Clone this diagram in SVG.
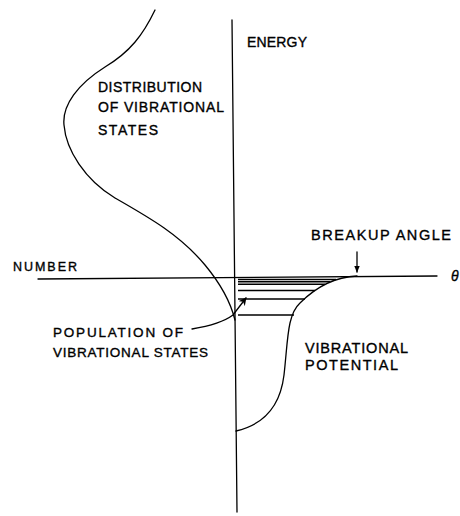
<svg xmlns="http://www.w3.org/2000/svg" width="460" height="516" viewBox="0 0 460 516">
<style>
.ln{fill:none;stroke:#000;stroke-width:1.3;stroke-linecap:round}
.lv{fill:none;stroke:#000;stroke-width:1.5}
.t{font-family:"Liberation Sans",Arial,sans-serif;fill:#000;stroke:#000;stroke-width:0.35}
</style>
<defs>
<marker id="ah" viewBox="0 0 10 10" refX="9" refY="5" markerWidth="7" markerHeight="7" orient="auto" markerUnits="userSpaceOnUse">
<path d="M0,1 L10,5 L0,9 Z" fill="#000"/>
</marker>
<marker id="ah2" viewBox="0 0 10 10" refX="9" refY="5" markerWidth="8" markerHeight="8" orient="auto" markerUnits="userSpaceOnUse">
<path d="M0,0 L10,5 L0,10 L3,5 Z" fill="#000"/>
</marker>
</defs>
<rect width="460" height="516" fill="#fff"/>
<g id="axes">
<line class="ln" x1="232" y1="20" x2="237" y2="512"/>
<line class="ln" x1="38" y1="279" x2="437" y2="276"/>
</g>
<g id="distribution">
<path class="ln" d="M155,10 C143,35 130,52 105,67 C78,84 62,105 64,125 C66,150 85,180 115,198 C150,218 180,235 205,265 C220,283 230,300 235,320"/>
</g>
<g id="potential">
<path class="ln" d="M236,431 C262,425 280,408 284,375 C288,340 287,315 300,303 C315,288 333,277 357,276"/>
</g>
<g id="levels">
<line class="lv" x1="238" y1="279.5" x2="336" y2="279.5"/>
<line class="lv" x1="238" y1="281.8" x2="330" y2="281.8"/>
<line class="lv" x1="238" y1="284.3" x2="325" y2="284.3"/>
<line class="lv" x1="238" y1="290.5" x2="315" y2="290.5"/>
<line class="lv" x1="238" y1="299" x2="305" y2="299"/>
<line class="lv" x1="238" y1="315" x2="294" y2="315"/>
</g>
<g id="connectors">
<path class="ln" d="M192,329 C210,326 225,321 233,315 L246,298" marker-end="url(#ah2)"/>
<line class="ln" x1="357" y1="252" x2="357" y2="272" marker-end="url(#ah)"/>
</g>
<g id="labels">
<text class="t" x="247" y="47" font-size="14" textLength="60" lengthAdjust="spacing">ENERGY</text>
<text class="t" x="98" y="92" font-size="14" textLength="104" lengthAdjust="spacing">DISTRIBUTION</text>
<text class="t" x="98" y="112" font-size="14" textLength="126" lengthAdjust="spacing">OF VIBRATIONAL</text>
<text class="t" x="98" y="135" font-size="14" textLength="60" lengthAdjust="spacing">STATES</text>
<text class="t" x="13" y="271" font-size="12.5" textLength="64" lengthAdjust="spacing">NUMBER</text>
<text class="t" x="311" y="240" font-size="14.5" textLength="140" lengthAdjust="spacing">BREAKUP ANGLE</text>
<text class="t" x="451" y="281" font-size="14" font-style="italic">θ</text>
<text class="t" x="53" y="337" font-size="13.5" textLength="130" lengthAdjust="spacing">POPULATION OF</text>
<text class="t" x="53" y="357" font-size="13.5" textLength="155" lengthAdjust="spacing">VIBRATIONAL STATES</text>
<text class="t" x="305" y="353" font-size="14.5" textLength="103" lengthAdjust="spacing">VIBRATIONAL</text>
<text class="t" x="305" y="370" font-size="14.5" textLength="93" lengthAdjust="spacing">POTENTIAL</text>
</g>
</svg>
